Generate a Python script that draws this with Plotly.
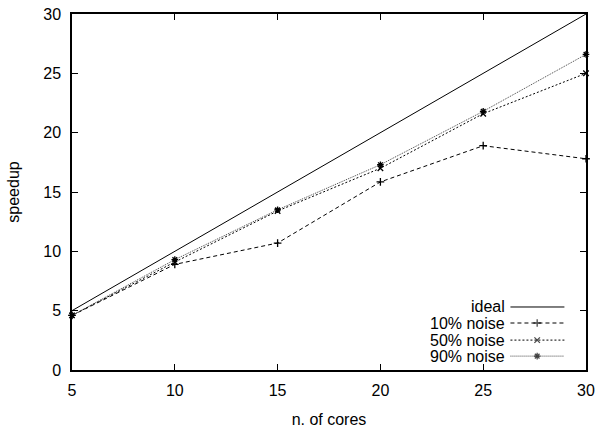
import plotly.graph_objects as go

cores = [5, 10, 15, 20, 25, 30]
ideal = [5, 10, 15, 20, 25, 30]
noise10 = [4.6, 8.9, 10.7, 15.85, 18.9, 17.8]
noise50 = [4.6, 9.1, 13.4, 17.0, 21.6, 25.0]
noise90 = [4.6, 9.3, 13.5, 17.3, 21.8, 26.6]
series_names = ["ideal", "10% noise", "50% noise", "90% noise"]

FONT = "Liberation Sans, Arial, Helvetica, sans-serif"
FS = 16

styles = [
    dict(dash="solid", color="black", symbol=None),
    dict(dash="4px,3px", color="black", symbol="cross-thin-open"),
    dict(dash="2px,2px", color="black", symbol="x-thin-open"),
    dict(dash="1px,1px", color="#444444", symbol="asterisk-open"),
]

fig = go.Figure()
for name, ys, st in zip(series_names, [ideal, noise10, noise50, noise90], styles):
    fig.add_trace(go.Scatter(
        x=cores, y=ys, name=name,
        mode="lines" if st["symbol"] is None else "lines+markers",
        line=dict(color=st["color"], width=1, dash=st["dash"]),
        marker=dict(symbol=st["symbol"] or "circle", size=5.5,
                    line=dict(color="black", width=1.3), color="black"),
        showlegend=False, cliponaxis=False,
    ))

# manual gnuplot-style legend (text left, sample right)
leg_y = [0.177, 0.132, 0.084, 0.039]
for name, st, yy in zip(series_names, styles, leg_y):
    fig.add_trace(go.Scatter(
        x=[0.853, 0.905, 0.958], y=[yy, yy, yy],
        xaxis="x2", yaxis="y2",
        mode="lines" if st["symbol"] is None else "lines+markers",
        line=dict(color=st["color"], width=1, dash=st["dash"]),
        marker=dict(symbol=st["symbol"] or "circle", size=[0, 5.5, 0],
                    line=dict(color="black", width=1.3), color="black"),
        showlegend=False, hoverinfo="skip",
    ))
    fig.add_annotation(x=0.847, y=yy, xref="x2", yref="y2", text=name,
                       showarrow=False, xanchor="right", yanchor="middle",
                       font=dict(family=FONT, size=FS, color="black"))

axis_common = dict(
    showline=True, linecolor="black", linewidth=1.5, mirror="allticks",
    ticks="inside", ticklen=6, tickcolor="black", tickwidth=1,
    showgrid=False, zeroline=False, automargin=False,
    tickfont=dict(family=FONT, size=FS, color="black"),
)

fig.update_layout(
    width=597, height=428,
    margin=dict(l=72, r=11, t=14, b=58),
    paper_bgcolor="white", plot_bgcolor="white",
    xaxis=dict(range=[5, 30], tickvals=[5, 10, 15, 20, 25, 30], **axis_common,
               ticklabelstandoff=5,
               title=dict(text="n. of cores", font=dict(family=FONT, size=FS, color="black"), standoff=18)),
    yaxis=dict(range=[0, 30], tickvals=[0, 5, 10, 15, 20, 25, 30], **axis_common,
               ticklabelstandoff=6,
               title=dict(text="speedup", font=dict(family=FONT, size=FS, color="black"), standoff=20)),
    xaxis2=dict(range=[0, 1], overlaying="x", visible=False, fixedrange=True),
    yaxis2=dict(range=[0, 1], overlaying="y", visible=False, fixedrange=True),
    showlegend=False,
)

fig.write_html("out.html", config={"displayModeBar": False},
               post_script="document.body.style.margin='0';")
